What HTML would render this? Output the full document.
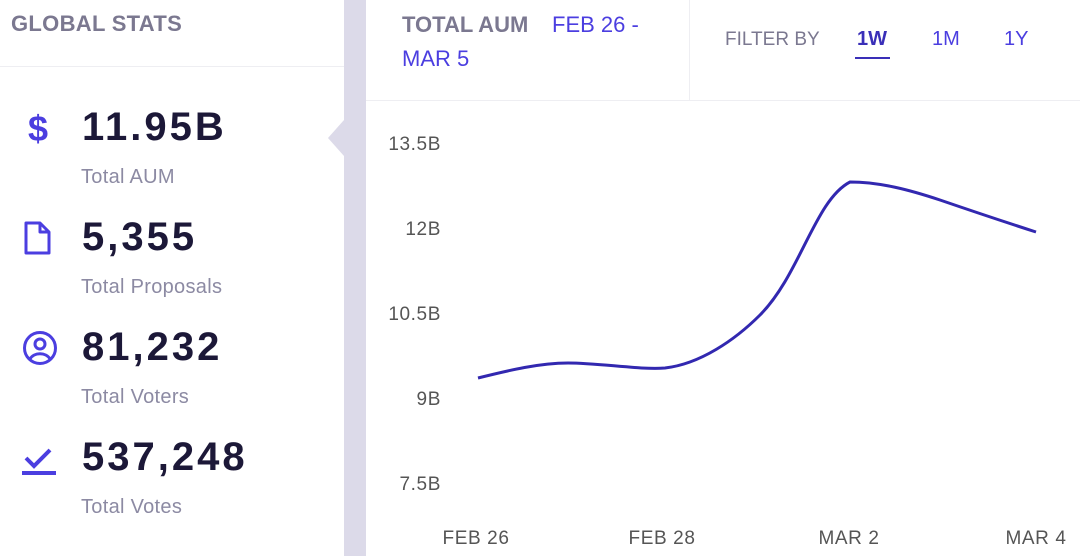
<!DOCTYPE html>
<html><head><meta charset="utf-8"><style>
*{margin:0;padding:0;box-sizing:border-box}
body{width:1080px;height:556px;overflow:hidden;background:#fff;font-family:"Liberation Sans",sans-serif;position:relative}
.a{position:absolute;white-space:nowrap}
.num{font-size:40px;font-weight:bold;color:#1c1838;letter-spacing:3px}
.lab{font-size:20px;color:#8c8aa3;letter-spacing:0.3px}
.tick{font-size:19px;color:#555;letter-spacing:0.6px}
</style></head><body>
<div class="a" style="left:11px;top:11px;font-size:22px;font-weight:bold;color:#7b7890;letter-spacing:0.3px">GLOBAL STATS</div>
<div class="a" style="left:0;top:66px;width:344px;height:1px;background:#eeeef2"></div>
<div class="a" style="left:344px;top:0;width:22px;height:556px;background:#dcdae9"></div>
<div class="a" style="left:328px;top:120px;width:0;height:0;border-top:18px solid transparent;border-bottom:18px solid transparent;border-right:16px solid #dcdae9"></div>
<div class="a" style="left:366px;top:100px;width:714px;height:1px;background:#eeeef2"></div>
<div class="a" style="left:689px;top:0;width:1px;height:100px;background:#eeeef2"></div>

<div class="a" style="left:28px;top:108px;font-size:36px;font-weight:bold;color:#4b3ee0">$</div>
<div class="a num" style="left:82px;top:105px">11.95B</div>
<div class="a lab" style="left:81px;top:166px">Total AUM</div>

<svg class="a" style="left:24px;top:220px" width="30" height="36" viewBox="0 0 30 36"><path d="M2 3h14l9 9v21H2z M16 3v9h9" fill="none" stroke="#4b3ee0" stroke-width="3" stroke-linejoin="round"/></svg>
<div class="a num" style="left:82px;top:215px">5,355</div>
<div class="a lab" style="left:81px;top:276px">Total Proposals</div>

<svg class="a" style="left:22px;top:330px" width="36" height="36" viewBox="0 0 36 36"><circle cx="18" cy="18" r="15.5" fill="none" stroke="#4b3ee0" stroke-width="3"/><circle cx="18" cy="14" r="5" fill="none" stroke="#4b3ee0" stroke-width="3"/><path d="M8 29c4-7 16-7 20 0" fill="none" stroke="#4b3ee0" stroke-width="3"/></svg>
<div class="a num" style="left:82px;top:325px">81,232</div>
<div class="a lab" style="left:81px;top:386px">Total Voters</div>

<svg class="a" style="left:22px;top:440px" width="36" height="36" viewBox="0 0 36 36"><path d="M4 18l8 8 16-16" fill="none" stroke="#4b3ee0" stroke-width="4"/><rect x="0" y="31" width="34" height="4" fill="#4b3ee0"/></svg>
<div class="a num" style="left:82px;top:435px">537,248</div>
<div class="a lab" style="left:81px;top:496px">Total Votes</div>

<div class="a" style="left:402px;top:12px;font-size:22px;font-weight:bold;color:#7b7890">TOTAL AUM</div>
<div class="a" style="left:552px;top:12px;font-size:22px;color:#4b3ee0">FEB 26 -</div>
<div class="a" style="left:402px;top:46px;font-size:22px;color:#4b3ee0">MAR 5</div>
<div class="a" style="left:725px;top:29px;font-size:19px;color:#7b7890">FILTER BY</div>
<div class="a" style="left:857px;top:28px;font-size:20px;font-weight:bold;color:#3a2fb8">1W</div>
<div class="a" style="left:855px;top:57px;width:35px;height:2px;background:#3a2fb8"></div>
<div class="a" style="left:932px;top:28px;font-size:20px;color:#4b3ee0">1M</div>
<div class="a" style="left:1004px;top:28px;font-size:20px;color:#4b3ee0">1Y</div>

<div class="a tick" style="left:360px;width:81px;text-align:right;top:134px">13.5B</div>
<div class="a tick" style="left:360px;width:81px;text-align:right;top:219px">12B</div>
<div class="a tick" style="left:360px;width:81px;text-align:right;top:304px">10.5B</div>
<div class="a tick" style="left:360px;width:81px;text-align:right;top:389px">9B</div>
<div class="a tick" style="left:360px;width:81px;text-align:right;top:474px">7.5B</div>

<div class="a tick" style="left:416px;width:120px;text-align:center;top:528px">FEB 26</div>
<div class="a tick" style="left:602px;width:120px;text-align:center;top:528px">FEB 28</div>
<div class="a tick" style="left:789px;width:120px;text-align:center;top:528px">MAR 2</div>
<div class="a tick" style="left:976px;width:120px;text-align:center;top:528px">MAR 4</div>

<svg class="a" style="left:0;top:0" width="1080" height="556"><path d="M478 378 C510 370,540 363,568 363 C600 363,640 370,665 368 C700 364,735 340,760 315 C800 275,815 200,850 182 C880 182,910 190,940 200 C975 212,1005 222,1036 232" fill="none" stroke="#3228b0" stroke-width="3"/></svg>
</body></html>
